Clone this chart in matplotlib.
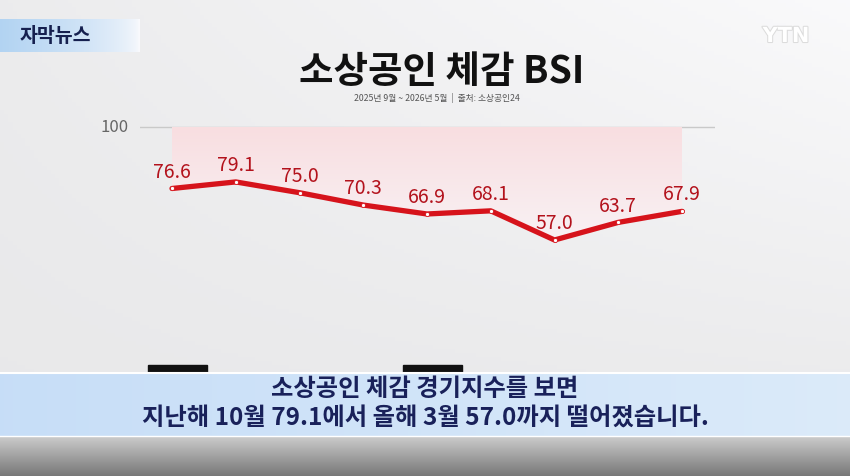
import numpy as np
import matplotlib.pyplot as plt
from matplotlib.patches import Rectangle
import matplotlib.patheffects as pe

plt.rcParams['font.family'] = ['Noto Sans CJK KR', 'DejaVu Sans']

# 데이터 (2025년 9월 ~ 2026년 5월)
months = ['2025-09', '2025-10', '2025-11', '2025-12', '2026-01',
          '2026-02', '2026-03', '2026-04', '2026-05']
bsi = [76.6, 79.1, 75.0, 70.3, 66.9, 68.1, 57.0, 63.7, 67.9]
year_idx = [0, 4]   # 연도 라벨 위치 (자막 바에 가려짐)

title = '소상공인 체감 BSI'
subtitle = '2025년 9월 ~ 2026년 5월  |  출처: 소상공인24'
caption = ['소상공인 체감 경기지수를 보면',
           '지난해 10월 79.1에서 올해 3월 57.0까지 떨어졌습니다.']

W, H = 850, 477
fig = plt.figure(figsize=(W / 100, H / 100), dpi=100)

# 배경
bg = fig.add_axes([0, 0, 1, 1])
bg.axis('off')
gx = np.linspace(0, 1, 200)
gy = np.linspace(0, 1, 120)
GX, GY = np.meshgrid(gx, gy)
shade = 0.925 + 0.055 * GX * (1 - GY) - 0.015 * GY
bg.imshow(np.dstack([shade, shade, shade + 0.005]).clip(0, 1),
          extent=[0, W, H, 0], aspect='auto', zorder=0)

# 자막뉴스 태그
tag = np.linspace(0, 1, 100)
tag_rgb = np.array([[0.70, 0.83, 0.95]]) * (1 - tag[:, None]) ** 0.6 + \
    np.array([[0.98, 0.98, 0.99]]) * (1 - (1 - tag[:, None]) ** 0.6)
bg.imshow(tag_rgb[None, :, :], extent=[0, 140, 53, 20], aspect='auto', zorder=1)
bg.text(20, 37, '자막뉴스', fontsize=14, fontweight='bold', color='#16204f',
        va='center', ha='left', zorder=2)

# YTN 로고
bg.text(786, 37, 'YTN', fontsize=15, fontweight='bold', color='white',
        va='center', ha='center', zorder=2, family='DejaVu Sans',
        path_effects=[pe.withStroke(linewidth=1.5, foreground='#dcdcdc')])

# 제목
bg.text(442, 72, title, fontsize=27, fontweight='heavy', color='#111111',
        ha='center', va='center', zorder=2)
bg.text(437, 98, subtitle, fontsize=6.3, color='#555555',
        ha='center', va='center', zorder=2)

# 차트 영역
px_per_unit = (241 - 128) / (100 - 57.0)
y_top = 100 + (128 - 110) / px_per_unit
y_bot = 100 - (370 - 128) / px_per_unit
x0, x8 = 172, 682
step = (x8 - x0) / (len(bsi) - 1)
xlim = (-(x0 - 140) / step, len(bsi) - 1 + (715 - x8) / step)
ax = fig.add_axes([140 / W, 1 - 370 / H, (715 - 140) / W, (370 - 110) / H])
ax.axis('off')
ax.patch.set_alpha(0)

xs = np.arange(len(bsi))
ax.axhline(100, color='#c9c9c9', lw=1, zorder=1)
ax.text(-(x0 - 100) / step, 100, '100', fontsize=12, color='#666666',
        ha='left', va='center')

# 분홍 영역 (그라데이션)
poly = ax.fill_between(xs, bsi, 100, color='none', lw=0)
grad = np.linspace(0, 1, 100)[:, None]
pink = np.dstack([np.full_like(grad, 0.975), 0.87 + 0.08 * grad,
                  0.88 + 0.08 * grad])
im = ax.imshow(pink, extent=[0, len(bsi) - 1, 55, 100], aspect='auto',
               origin='upper', zorder=1)
im.set_clip_path(poly.get_paths()[0], transform=ax.transData)
ax.set_xlim(*xlim)
ax.set_ylim(y_bot, y_top)

ax.plot(xs, bsi, color='#d6131b', lw=3.8, solid_capstyle='round',
        solid_joinstyle='round', zorder=3)
ax.scatter(xs, bsi, s=9, color='white', edgecolor='#d6131b', lw=0.6, zorder=4)
for x, v in zip(xs, bsi):
    ax.annotate(f'{v:.1f}', (x, v), xytext=(0, 12.5), textcoords='offset points',
                ha='center', va='center', fontsize=14, color='#b3121c',
                zorder=5)

# 연도 라벨 상자 (자막 바에 가려져 윗부분만 보임)
for i in year_idx:
    bx = x0 + i * step - 24
    bg.add_patch(Rectangle((bx, 366), 59, 20, color='#111111', zorder=3))

# 하단 자막 바
bar = np.linspace(0, 1, 200)[None, :, None]
bar_rgb = np.concatenate([0.78 + 0.08 * bar, 0.87 + 0.05 * bar,
                          0.97 + 0.01 * bar], axis=2)
bg.imshow(bar_rgb, extent=[0, W, 437, 374], aspect='auto', zorder=6)
bg.plot([0, W], [374, 374], color='white', lw=1.5, zorder=7)
bg.plot([0, W], [437, 437], color='white', lw=1, zorder=7)
bot = np.linspace(0, 1, 60)[:, None, None]
bot_rgb = np.repeat(0.80 - 0.33 * bot, 3, axis=2)
bg.imshow(bot_rgb, extent=[0, W, H, 437], aspect='auto', zorder=6)
bg.text(425, 389, caption[0], fontsize=17.5, fontweight='bold', color='#19215a',
        ha='center', va='center', zorder=8)
bg.text(425, 419, caption[1], fontsize=17.5, fontweight='bold', color='#19215a',
        ha='center', va='center', zorder=8)

bg.set_xlim(0, W)
bg.set_ylim(H, 0)
fig.savefig('out.png', dpi=100)
